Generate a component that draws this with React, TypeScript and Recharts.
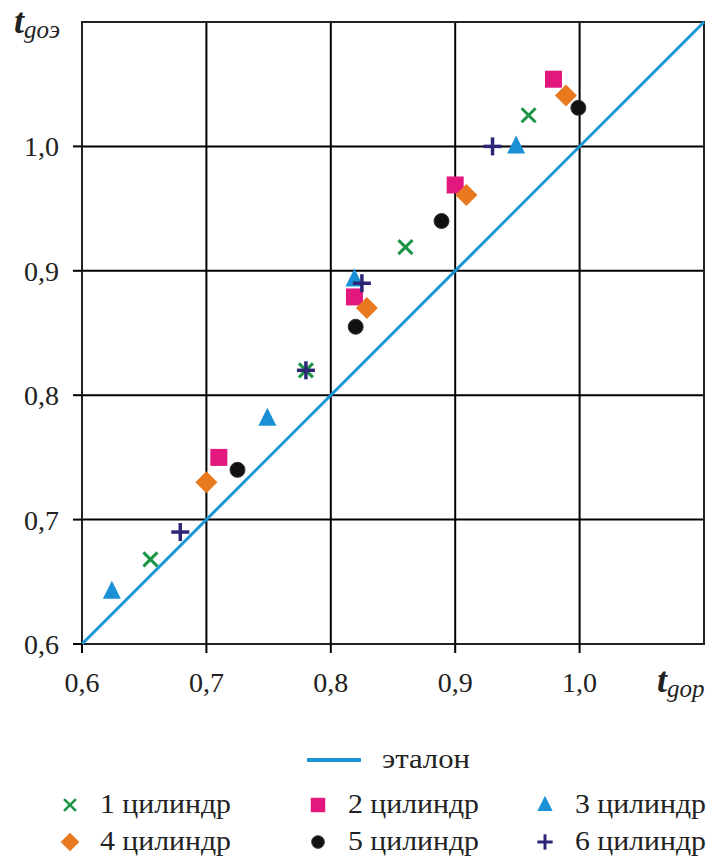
import React from 'react';
import {
  ScatterChart,
  Scatter,
  XAxis,
  YAxis,
  CartesianGrid,
  ReferenceLine,
  ReferenceArea,
} from 'recharts';

// axis ticks and the reference (etalon) line ends
const axisTicks = [0.6, 0.7, 0.8, 0.9, 1.0];
const axisDomain = [0.6, 1.1];
const etalonEnds = [0.6, 1.1];

// measured points, one array per cylinder
const cyl1 = [
  { x: 0.655, y: 0.668 },
  { x: 0.78, y: 0.82 },
  { x: 0.86, y: 0.919 },
  { x: 0.959, y: 1.025 },
];
const cyl2 = [
  { x: 0.71, y: 0.75 },
  { x: 0.819, y: 0.879 },
  { x: 0.9, y: 0.969 },
  { x: 0.979, y: 1.054 },
];
const cyl3 = [
  { x: 0.624, y: 0.642 },
  { x: 0.749, y: 0.781 },
  { x: 0.819, y: 0.893 },
  { x: 0.949, y: 1.0 },
];
const cyl4 = [
  { x: 0.7, y: 0.73 },
  { x: 0.829, y: 0.87 },
  { x: 0.909, y: 0.961 },
  { x: 0.989, y: 1.041 },
];
const cyl5 = [
  { x: 0.725, y: 0.74 },
  { x: 0.82, y: 0.855 },
  { x: 0.889, y: 0.94 },
  { x: 0.999, y: 1.031 },
];
const cyl6 = [
  { x: 0.679, y: 0.69 },
  { x: 0.78, y: 0.82 },
  { x: 0.825, y: 0.89 },
  { x: 0.93, y: 1.0 },
];

const GREEN = '#1b9545';
const MAGENTA = '#e3187e';
const BLUE = '#1a90d6';
const ORANGE = '#e8791e';
const BLACK = '#111111';
const PURPLE = '#2c2677';
const LINE = '#1b95d4';

const FONT = 'Liberation Serif';

type Mark = { cx?: number; cy?: number };

const Cross = ({ cx = 0, cy = 0 }: Mark) => (
  <g stroke={GREEN} strokeWidth={3}>
    <line x1={cx - 7} y1={cy - 7} x2={cx + 7} y2={cy + 7} />
    <line x1={cx - 7} y1={cy + 7} x2={cx + 7} y2={cy - 7} />
  </g>
);
const Square = ({ cx = 0, cy = 0 }: Mark) => (
  <rect x={cx - 8.5} y={cy - 8.5} width={17} height={17} fill={MAGENTA} />
);
const Triangle = ({ cx = 0, cy = 0 }: Mark) => (
  <polygon points={`${cx},${cy - 11} ${cx - 9},${cy + 7} ${cx + 9},${cy + 7}`} fill={BLUE} />
);
const Diamond = ({ cx = 0, cy = 0 }: Mark) => (
  <polygon
    points={`${cx},${cy - 11} ${cx + 11},${cy} ${cx},${cy + 11} ${cx - 11},${cy}`}
    fill={ORANGE}
  />
);
const Dot = ({ cx = 0, cy = 0 }: Mark) => (
  <circle cx={cx} cy={cy} r={7.5} fill={BLACK} stroke="#333" strokeWidth={1} />
);
const Plus = ({ cx = 0, cy = 0 }: Mark) => (
  <g stroke={PURPLE} strokeWidth={3.5}>
    <line x1={cx - 9} y1={cy} x2={cx + 9} y2={cy} />
    <line x1={cx} y1={cy - 9} x2={cx} y2={cy + 9} />
  </g>
);

const legendItems = [
  { name: '1 цилиндр', Icon: Cross, left: 70, top: 805 },
  { name: '2 цилиндр', Icon: Square, left: 318, top: 805 },
  { name: '3 цилиндр', Icon: Triangle, left: 545, top: 805 },
  { name: '4 цилиндр', Icon: Diamond, left: 70, top: 842 },
  { name: '5 цилиндр', Icon: Dot, left: 318, top: 842 },
  { name: '6 цилиндр', Icon: Plus, left: 545, top: 842 },
];

const fmt = (v: number) => v.toFixed(1).replace('.', ',');

const css = `
  .chart-root, .chart-root text, .chart-root tspan {
    font-family: 'Liberation Serif', 'Times New Roman', Tinos, serif !important;
  }
`;

export default function App() {
  const tickStyle = { fontFamily: FONT, fontSize: 28, fill: '#222' };
  return (
    <div
      className="chart-root"
      style={{ position: 'absolute', left: 0, top: 0, width: 712, height: 857 }}
    >
      <style>{css}</style>
      <ScatterChart width={712} height={857} margin={{ top: 22, right: 8, left: 0, bottom: 0 }}>
        <CartesianGrid stroke="#000" strokeWidth={2} />
        <XAxis
          type="number"
          dataKey="x"
          domain={axisDomain}
          ticks={axisTicks}
          tickFormatter={fmt}
          height={213}
          tick={tickStyle}
          tickSize={9}
          tickMargin={19}
          tickLine={{ stroke: '#000', strokeWidth: 2 }}
          axisLine={false}
          allowDataOverflow
          label={{
            content: () => (
              <text x={657} y={692} fill="#222" fontStyle="italic">
                <tspan fontSize={36} fontWeight="bold">t</tspan>
                <tspan fontSize={25} dy={5}>gop</tspan>
              </text>
            ),
          }}
        />
        <YAxis
          type="number"
          dataKey="y"
          domain={axisDomain}
          ticks={axisTicks}
          tickFormatter={fmt}
          width={82}
          tick={tickStyle}
          tickSize={9}
          tickMargin={14}
          tickLine={{ stroke: '#000', strokeWidth: 2 }}
          axisLine={false}
          allowDataOverflow
          label={{
            content: () => (
              <text x={14} y={33} fill="#222" fontStyle="italic">
                <tspan fontSize={36} fontWeight="bold">t</tspan>
                <tspan fontSize={25} dy={5}>goэ</tspan>
              </text>
            ),
          }}
        />
        <ReferenceArea
          x1={axisDomain[0]}
          x2={axisDomain[1]}
          y1={axisDomain[0]}
          y2={axisDomain[1]}
          fill="none"
          stroke="#222"
          strokeWidth={2}
          fillOpacity={0}
        />
        <ReferenceLine
          segment={[
            { x: etalonEnds[0], y: etalonEnds[0] },
            { x: etalonEnds[1], y: etalonEnds[1] },
          ]}
          stroke={LINE}
          strokeWidth={3}
        />
        <Scatter name="1 цилиндр" data={cyl1} shape={Cross} isAnimationActive={false} />
        <Scatter name="2 цилиндр" data={cyl2} shape={Square} isAnimationActive={false} />
        <Scatter name="3 цилиндр" data={cyl3} shape={Triangle} isAnimationActive={false} />
        <Scatter name="4 цилиндр" data={cyl4} shape={Diamond} isAnimationActive={false} />
        <Scatter name="5 цилиндр" data={cyl5} shape={Dot} isAnimationActive={false} />
        <Scatter name="6 цилиндр" data={cyl6} shape={Plus} isAnimationActive={false} />
      </ScatterChart>

      {/* legend */}
      <svg width={712} height={127} style={{ position: 'absolute', left: 0, top: 730 }}>
        <line x1={307} y1={30} x2={361} y2={30} stroke={LINE} strokeWidth={4} />
        <text
          x={382}
          y={38}
          fontSize={27}
          fill="#222"
          textLength={88}
          lengthAdjust="spacingAndGlyphs"
        >
          эталон
        </text>
        {legendItems.map(({ name, Icon, left, top }) => (
          <g key={name}>
            <g transform={`translate(${left},${top - 730}) scale(0.85)`}>
              <Icon cx={0} cy={0} />
            </g>
            <text
              x={left + 30}
              y={top - 730 + 8}
              fontSize={27}
              fill="#222"
              textLength={131}
              lengthAdjust="spacingAndGlyphs"
            >
              {name}
            </text>
          </g>
        ))}
      </svg>
    </div>
  );
}
